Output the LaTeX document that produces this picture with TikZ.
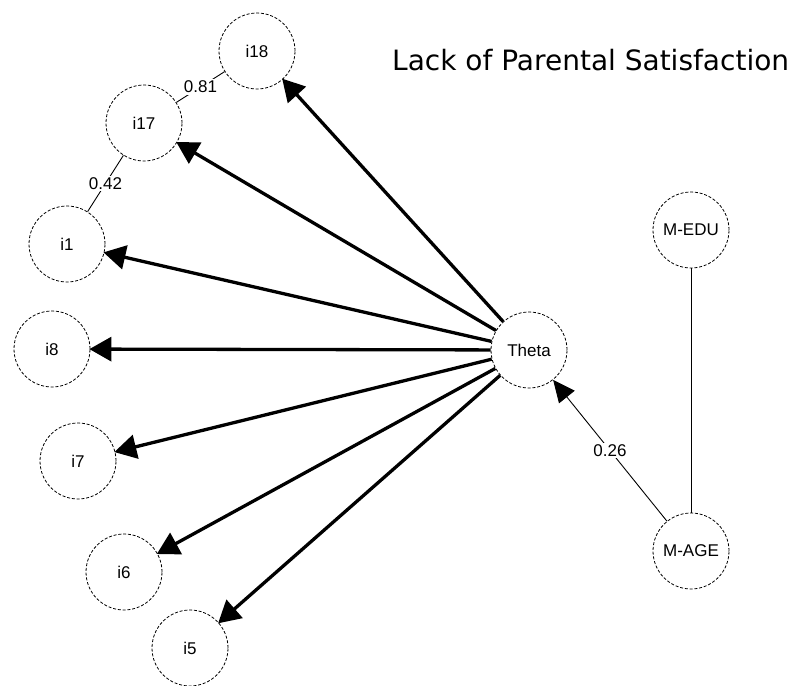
\documentclass[tikz,border=0pt]{standalone}
\usepackage{fontspec}
\setmainfont{Liberation Sans}
\newfontfamily\titlefont{DejaVu Sans}
\usetikzlibrary{arrows.meta}
\begin{document}
\begin{tikzpicture}[x=1pt,y=-1pt,
  var/.style={circle,draw,line width=0.8pt,dash pattern=on 3pt off 1.8pt,minimum size=76pt,inner sep=0pt,font=\fontsize{17}{17}\selectfont},
  load/.style={line width=3.3pt,-{Triangle[length=22pt,width=24pt]},shorten >=-1pt},
  thin/.style={line width=0.9pt},
  lab/.style={fill=white,inner sep=1.5pt,font=\fontsize{17}{17}\selectfont}]
\useasboundingbox (0,0) rectangle (807,686);
\node[var] (i18) at (257,51) {i18};
\node[var] (i17) at (144,123) {i17};
\node[var] (i1) at (67,244) {i1};
\node[var] (i8) at (52,349) {i8};
\node[var] (i7) at (78,461) {i7};
\node[var] (i6) at (124,572) {i6};
\node[var] (i5) at (190,648) {i5};
\node[var] (th) at (529,350) {Theta};
\node[var] (medu) at (691,230) {M-EDU};
\node[var] (mage) at (691,551) {M-AGE};
\node[anchor=base west,inner sep=0pt,font=\titlefont\fontsize{28}{28}\selectfont] (title) at (392,70) {Lack of Parental Satisfaction};
\foreach \t in {i18,i17,i1,i8,i7,i6,i5} \draw[load] (th) -- (\t);
\draw[thin] (i17) -- node[lab] (l81) {0.81} (i18);
\draw[thin] (i17) -- node[lab] (l42) {0.42} (i1);
\draw[thin,-{Triangle[length=22pt,width=20pt]}] (mage) -- node[lab] (l26) {0.26} (th);
\draw[thin] (medu) -- (mage);
\end{tikzpicture}
\end{document}
